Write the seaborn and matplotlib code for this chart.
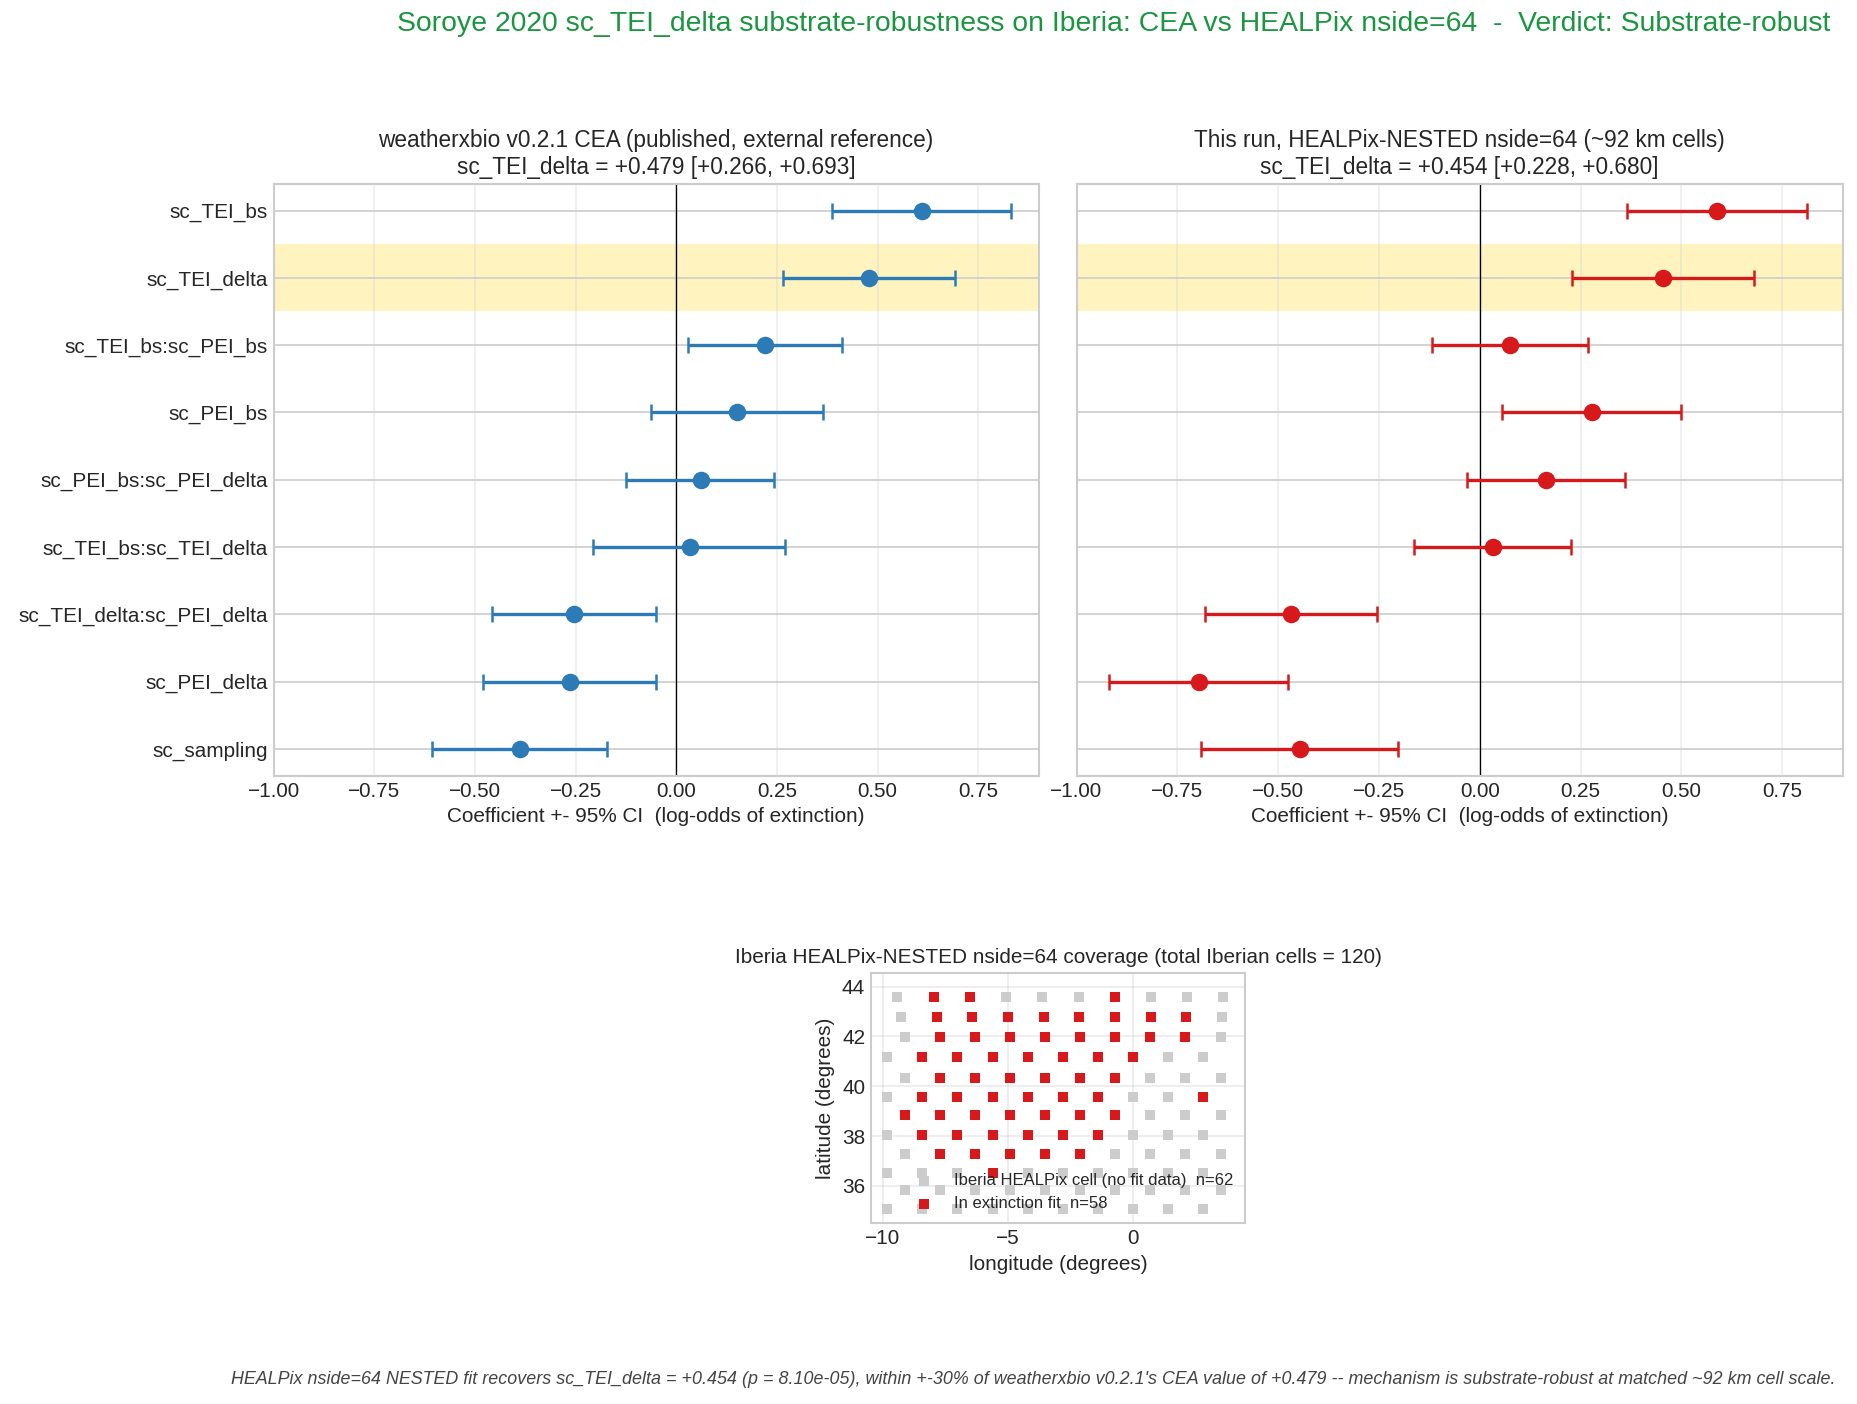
import numpy as np
import pandas as pd
import matplotlib
matplotlib.use('Agg')
import matplotlib.pyplot as plt
import seaborn as sns

sns.set_theme(style='whitegrid', context='notebook')
plt.rcParams['font.family'] = ['Liberation Sans', 'DejaVu Sans']

# ---- forest plot data ----
terms = ['sc_TEI_bs', 'sc_TEI_delta', 'sc_TEI_bs:sc_PEI_bs', 'sc_PEI_bs',
         'sc_PEI_bs:sc_PEI_delta', 'sc_TEI_bs:sc_TEI_delta',
         'sc_TEI_delta:sc_PEI_delta', 'sc_PEI_delta', 'sc_sampling']
cea_coef = [0.610, 0.479, 0.221, 0.151, 0.062, 0.034, -0.253, -0.264, -0.389]
cea_lo = [0.387, 0.266, 0.028, -0.062, -0.124, -0.206, -0.457, -0.479, -0.606]
cea_hi = [0.831, 0.693, 0.412, 0.365, 0.244, 0.269, -0.051, -0.051, -0.173]
hp_coef = [0.587, 0.454, 0.076, 0.277, 0.165, 0.033, -0.467, -0.697, -0.446]
hp_lo = [0.366, 0.228, -0.118, 0.054, -0.031, -0.164, -0.681, -0.920, -0.691]
hp_hi = [0.811, 0.680, 0.267, 0.500, 0.361, 0.225, -0.255, -0.476, -0.203]
focus = 'sc_TEI_delta'

# ---- Iberia HEALPix cells: one latitude per ring, longitudes per ring ----
ring_lat = [43.57, 42.77, 41.96, 41.16, 40.35, 39.59, 38.83, 38.06, 37.30, 36.53, 35.82, 35.09]
ring_lon = [
    [-9.44, -7.96, -6.52, -5.08, -3.64, -2.16, -0.72, 0.72, 2.16, 3.60],
    [-9.28, -7.84, -6.44, -5.00, -3.56, -2.16, -0.72, 0.72, 2.12, 3.56],
    [-9.12, -7.72, -6.32, -4.92, -3.52, -2.12, -0.72, 0.68, 2.08, 3.52],
    [-9.84, -8.44, -7.03, -5.62, -4.22, -2.81, -1.41, 0.00, 1.41, 2.81],
    [-9.12, -7.72, -6.32, -4.92, -3.52, -2.12, -0.72, 0.68, 2.08, 3.52],
    [-9.84, -8.44, -7.03, -5.62, -4.22, -2.81, -1.41, 0.00, 1.41, 2.81],
    [-9.12, -7.72, -6.32, -4.92, -3.52, -2.12, -0.72, 0.68, 2.08, 3.52],
    [-9.84, -8.44, -7.03, -5.62, -4.22, -2.81, -1.41, 0.00, 1.41, 2.81],
    [-9.12, -7.72, -6.32, -4.92, -3.52, -2.12, -0.72, 0.68, 2.08, 3.52],
    [-9.84, -8.44, -7.03, -5.62, -4.22, -2.81, -1.41, 0.00, 1.41, 2.81],
    [-9.12, -7.72, -6.32, -4.92, -3.52, -2.12, -0.72, 0.68, 2.08, 3.52],
    [-9.84, -8.44, -7.03, -5.62, -4.22, -2.81, -1.41, 0.00, 1.41, 2.81],
]
# 1 = cell used in the extinction fit
ring_fit = [
    [0, 1, 1, 0, 0, 0, 1, 0, 0, 0],
    [0, 1, 1, 1, 1, 1, 1, 1, 1, 0],
    [0, 1, 1, 1, 1, 1, 1, 1, 1, 0],
    [0, 1, 1, 1, 1, 1, 1, 1, 0, 0],
    [0, 1, 1, 1, 1, 1, 1, 0, 0, 0],
    [0, 1, 1, 1, 1, 1, 1, 0, 0, 1],
    [1, 1, 1, 1, 1, 1, 1, 0, 0, 0],
    [0, 1, 1, 1, 1, 1, 1, 0, 0, 0],
    [0, 1, 1, 1, 1, 1, 0, 0, 0, 0],
    [0, 0, 0, 1, 0, 0, 0, 0, 0, 0],
    [0, 0, 0, 0, 0, 0, 0, 0, 0, 0],
    [0, 0, 0, 0, 0, 0, 0, 0, 0, 0],
]

BLUE = '#2c7bb6'
RED = '#d7191c'
GREEN = '#1a9641'

rows = []
for lat, lons, fits in zip(ring_lat, ring_lon, ring_fit):
    for lon, f in zip(lons, fits):
        rows.append({'lon': lon, 'lat': lat, 'fit': f})
cells = pd.DataFrame(rows)
n_fit = int(cells['fit'].sum())
n_nofit = len(cells) - n_fit

W, H, DPI = 1857, 1404, 120
K = 1.135  # font scale
fig = plt.figure(figsize=(W / DPI, H / DPI), dpi=DPI)
plt.rcParams['xtick.labelsize'] = 11 * K
plt.rcParams['ytick.labelsize'] = 11 * K


def px_axes(x0, y0, x1, y1):
    return fig.add_axes([x0 / W, 1 - y1 / H, (x1 - x0) / W, (y1 - y0) / H])


def forest(ax, coef, lo, hi, color, title, show_labels):
    y = np.arange(len(terms))
    coef = np.array(coef)
    err = np.vstack([coef - np.array(lo), np.array(hi) - coef])
    i = terms.index(focus)
    ax.axhspan(i - 0.5, i + 0.5, color='gold', alpha=0.25, lw=0, zorder=0)
    ax.axvline(0, color='black', lw=0.8, zorder=1)
    ax.errorbar(coef, y, xerr=err, fmt='o', color=color, ms=9.5,
                elinewidth=2, capsize=5, capthick=1.5, zorder=3)
    ax.set_yticks(y)
    ax.set_yticklabels(terms if show_labels else [])
    ax.set_ylim(len(terms) - 1 + 0.4, -0.4)
    ax.set_xlim(-1.0, 0.9)
    ax.set_xticks(np.arange(-1.0, 0.76, 0.25))
    ax.tick_params(axis='both', length=0, pad=3.5)
    ax.grid(axis='x', alpha=0.35)
    ax.set_xlabel('Coefficient +- 95% CI  (log-odds of extinction)', fontsize=11 * K)
    ax.set_title('{}\n{} = {:+.3f} [{:+.3f}, {:+.3f}]'.format(
        title, focus, coef[i], lo[i], hi[i]), fontsize=12 * K)


ax1 = px_axes(273.6, 183.6, 1038.6, 775.7)
ax2 = px_axes(1076.5, 183.6, 1842.8, 775.7)
forest(ax1, cea_coef, cea_lo, cea_hi, BLUE,
       'weatherxbio v0.2.1 CEA (published, external reference)', True)
forest(ax2, hp_coef, hp_lo, hp_hi, RED,
       'This run, HEALPix-NESTED nside=64 (~92 km cells)', False)

ax3 = px_axes(871, 973, 1245, 1223)
sns.scatterplot(data=cells[cells['fit'] == 0], x='lon', y='lat', marker='s',
                s=30, color='#cccccc', linewidth=0, ax=ax3,
                label='Iberia HEALPix cell (no fit data)  n={}'.format(n_nofit))
sns.scatterplot(data=cells[cells['fit'] == 1], x='lon', y='lat', marker='s',
                s=42, color=RED, linewidth=0, ax=ax3,
                label='In extinction fit  n={}'.format(n_fit))
ax3.set_xlim(-10.48, 4.48)
ax3.set_ylim(34.51, 44.55)
ax3.set_xticks([-10, -5, 0])
ax3.set_yticks([36, 38, 40, 42, 44])
ax3.tick_params(axis='both', length=0, pad=3.5)
ax3.grid(alpha=0.4)
ax3.set_xlabel('longitude (degrees)', fontsize=11 * K)
ax3.set_ylabel('latitude (degrees)', fontsize=11 * K)
ax3.set_title('Iberia HEALPix-NESTED nside=64 coverage (total Iberian cells = {})'.format(len(cells)),
              fontsize=11 * K)
ax3.legend(loc='lower right', fontsize=10, frameon=False, borderaxespad=0.3)

fig.text(1114 / W, 1 - 24 / H,
         'Soroye 2020 sc_TEI_delta substrate-robustness on Iberia: CEA vs HEALPix nside=64  -  Verdict: Substrate-robust',
         ha='center', va='center', fontsize=15 * K, color=GREEN)
fig.text(1835.6 / W, 1 - 1380 / H,
         "HEALPix nside=64 NESTED fit recovers sc_TEI_delta = +0.454 (p = 8.10e-05), within +-30% of "
         "weatherxbio v0.2.1's CEA value of +0.479 -- mechanism is substrate-robust at matched ~92 km cell scale.",
         ha='right', va='center', fontsize=10.7, style='italic', color='#444444')

fig.savefig('out.png', dpi=DPI)
